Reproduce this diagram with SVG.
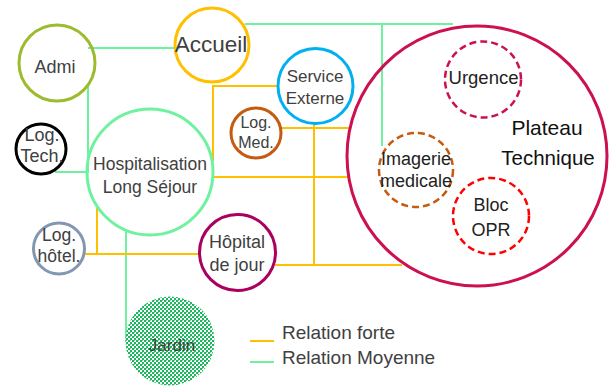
<svg xmlns="http://www.w3.org/2000/svg" width="609" height="386" viewBox="0 0 609 386">
<defs>
<style>
.t{font-family:"Liberation Sans",Arial,sans-serif;fill:#404040;text-anchor:middle}
.n{fill:none;stroke-width:3}
.d{fill:none;stroke-width:2.5;stroke-dasharray:7 4}
.g{stroke:#6FF2A0;stroke-width:2;fill:none}
.o{stroke:#FFC000;stroke-width:2;fill:none}
</style>
<pattern id="dots" width="4" height="4" patternUnits="userSpaceOnUse">
<rect width="4" height="4" fill="#ffffff"/>
<rect width="2" height="2" fill="#1DB85E"/>
<rect x="2" y="2" width="2" height="2" fill="#1DB85E"/>
<rect x="2" y="0" width="1" height="1" fill="#7FD8A0"/>
</pattern>
</defs>
<rect width="609" height="386" fill="#ffffff"/>
<g id="connectors">
<path class="g" d="M88,48 H180 M88,86 V172 H55 M245,24 H453 M382,24 V146 M126,232 V342"/>
<path class="o" d="M213,85 V161 M213,86 H277 M214,177 H348 M281,128 H350 M314,124 V265 M275,265 H402 M85,254 H199 M97,208 V254"/>
</g>
<g id="admi"><circle class="n" cx="57" cy="63" r="38" stroke="#9DBB2F"/><text class="t" x="55" y="73" font-size="18">Admi</text></g>
<g id="accueil"><circle class="n" cx="212" cy="45" r="37" stroke="#FFC000"/><text class="t" x="211" y="52" font-size="22.5">Accueil</text></g>
<g id="logtech"><circle class="n" cx="41" cy="149" r="25" stroke="#000000"/><text class="t" x="42" y="141" font-size="18">Log.</text><text class="t" x="42" y="162" font-size="18">Tech.</text></g>
<g id="hospitalisation"><circle class="n" cx="150" cy="172" r="63" stroke="#6FF2A0"/><text class="t" x="150" y="170" font-size="17.5">Hospitalisation</text><text class="t" x="150" y="193" font-size="17.5">Long Séjour</text></g>
<g id="logmed"><circle class="n" cx="256" cy="133" r="25" stroke="#C55A11"/><text class="t" x="256" y="128" font-size="16">Log.</text><text class="t" x="256" y="148" font-size="16">Med.</text></g>
<g id="serviceexterne"><circle class="n" cx="315.5" cy="86" r="37.5" stroke="#00B0F0"/><text class="t" x="315" y="82" font-size="17">Service</text><text class="t" x="315" y="104" font-size="17">Externe</text></g>
<g id="plateau"><circle class="n" cx="477" cy="156" r="130" stroke="#CC1050" stroke-width="2.5"/><text class="t" x="547" y="135" font-size="21" style="fill:#111111">Plateau</text><text class="t" x="548" y="165" font-size="20.5" style="fill:#111111">Technique</text></g>
<g id="urgence"><circle class="d" cx="483" cy="79.5" r="38" stroke="#CC1050"/><text class="t" x="483.5" y="84" font-size="18.5" style="fill:#222222">Urgence</text></g>
<g id="imagerie"><circle class="d" cx="416" cy="170" r="37" stroke="#C55A11"/><text class="t" x="416" y="165" font-size="18" style="fill:#222222">Imagerie</text><text class="t" x="416" y="187" font-size="18" style="fill:#222222">medicale</text></g>
<g id="bloc"><circle class="d" cx="491" cy="216" r="38" stroke="#FF0000"/><text class="t" x="491" y="211" font-size="18" style="fill:#222222">Bloc</text><text class="t" x="491" y="236" font-size="18" style="fill:#222222">OPR</text></g>
<g id="loghotel"><circle class="n" cx="59" cy="248.5" r="25.5" stroke="#8497B0"/><text class="t" x="59" y="241" font-size="17.5">Log.</text><text class="t" x="59" y="262" font-size="17.5">hôtel.</text></g>
<g id="hopital"><circle class="n" cx="237.5" cy="252.5" r="38" stroke="#AA0060"/><text class="t" x="237" y="248" font-size="18">Hôpital</text><text class="t" x="237" y="271" font-size="18">de jour</text></g>
<g id="jardin"><circle cx="170" cy="341" r="44.5" fill="url(#dots)"/><text class="t" x="172" y="351" font-size="17" style="fill:#404040">Jardin</text></g>
<g id="legend">
<path class="o" d="M250,341 H274"/>
<path class="g" d="M250,362 H274"/>
<text class="t" x="282" y="339" font-size="19" style="text-anchor:start">Relation forte</text>
<text class="t" x="282" y="364" font-size="19" style="text-anchor:start">Relation Moyenne</text>
</g>
</svg>
